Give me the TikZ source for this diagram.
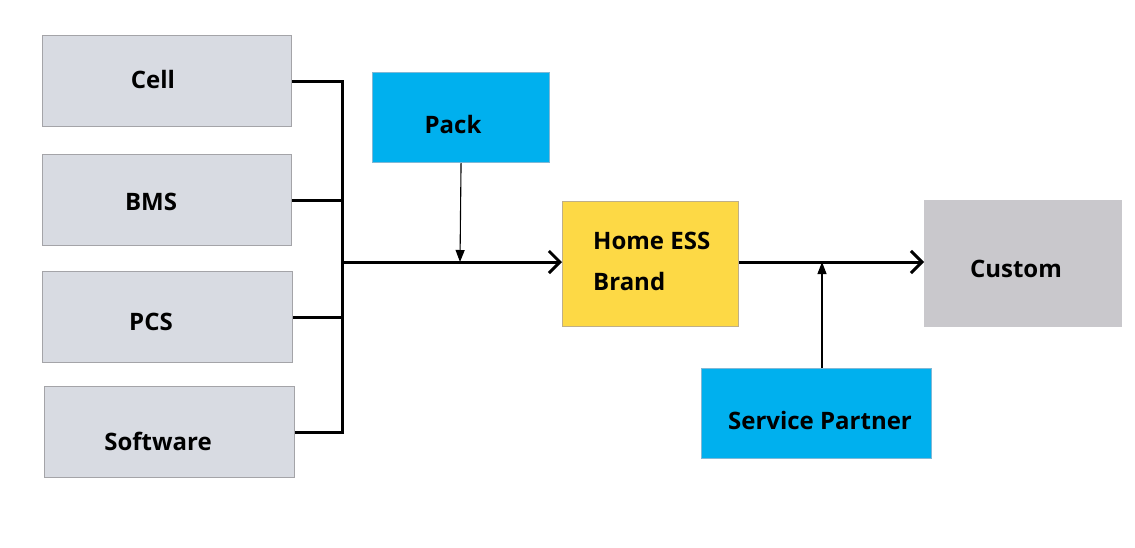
\documentclass[tikz,border=0pt]{standalone}
\usepackage{fontspec}
\setmainfont{Open Sans}
\usetikzlibrary{arrows.meta}
\definecolor{greybox}{HTML}{D8DBE2}
\definecolor{greyline}{HTML}{A4A4A8}
\definecolor{bluebox}{HTML}{00B0EE}
\definecolor{blueline}{HTML}{7FB8D6}
\definecolor{yellowbox}{HTML}{FDD945}
\definecolor{yellowline}{HTML}{BFAF88}
\definecolor{custbox}{HTML}{C9C8CC}
\tikzset{
  box/.style={draw, line width=1.1pt, minimum width=#1, inner sep=0pt, anchor=north west},
  lbl/.style={font=\bfseries\fontsize{24}{41}\selectfont, inner sep=0pt, text=black},
  thick line/.style={line width=3pt, black},
  thin line/.style={line width=1.1pt, black},
  bigarrow/.style={thick line, -{Straight Barb[length=11pt, width=22pt, line width=3pt]}},
  smallarrow/.style={thin line, -{Triangle[length=12pt, width=9pt]}}
}
\begin{document}
\begin{tikzpicture}[x=1pt, y=-1pt]
\useasboundingbox[fill=white] (0,0) rectangle (1135,547);
% left grey boxes
\node[box=249pt, minimum height=91pt, fill=greybox, draw=greyline] (cell) at (42,35) {};
\node[box=249pt, minimum height=91pt, fill=greybox, draw=greyline] (bms) at (42,154) {};
\node[box=250pt, minimum height=91pt, fill=greybox, draw=greyline] (pcs) at (42,271) {};
\node[box=250pt, minimum height=91pt, fill=greybox, draw=greyline] (soft) at (44,386) {};
\node[lbl] (cellt) at (153,79) {Cell};
\node[lbl] (bmst) at (151,202) {BMS};
\node[lbl] (pcst) at (151,322) {PCS};
\node[lbl] (softt) at (158,441) {Software};
% pack
\node[box=177pt, minimum height=90pt, fill=bluebox, draw=blueline] (pack) at (372,72) {};
\node[lbl] (packt) at (453,124) {Pack};
% home ess
\node[box=176pt, minimum height=125pt, fill=yellowbox, draw=yellowline] (home) at (562,201) {};
\node[lbl, anchor=west, align=left] (homet) at (593,261) {Home ESS\\Brand};
% custom
\node[box=197pt, minimum height=126pt, fill=custbox, draw=custbox] (cust) at (924,200) {};
\node[lbl] (custt) at (1016,269) {Custom};
% service partner
\node[box=230pt, minimum height=90pt, fill=bluebox, draw=blueline] (svc) at (701,368) {};
\node[lbl] (svct) at (820,420) {Service Partner};
% junctions
\coordinate (J) at (342,262);
\coordinate (P) at (460,262);
\coordinate (S) at (822,262);
\coordinate (Sb) at (822,368);
% connectors
\draw[thick line] (cell.east) -| (soft.east -| J) -- (soft.east);
\draw[thick line] (bms.east) -- (bms.east -| J);
\draw[thick line] (pcs.east) -- (pcs.east -| J);
\draw[bigarrow] (J) -- (home.west |- J);
\draw[smallarrow] (pack.south) -- (P);
\draw[bigarrow] (home.east |- J) -- (cust.west |- J);
\draw[smallarrow] (Sb) -- (S);
\end{tikzpicture}
\end{document}
